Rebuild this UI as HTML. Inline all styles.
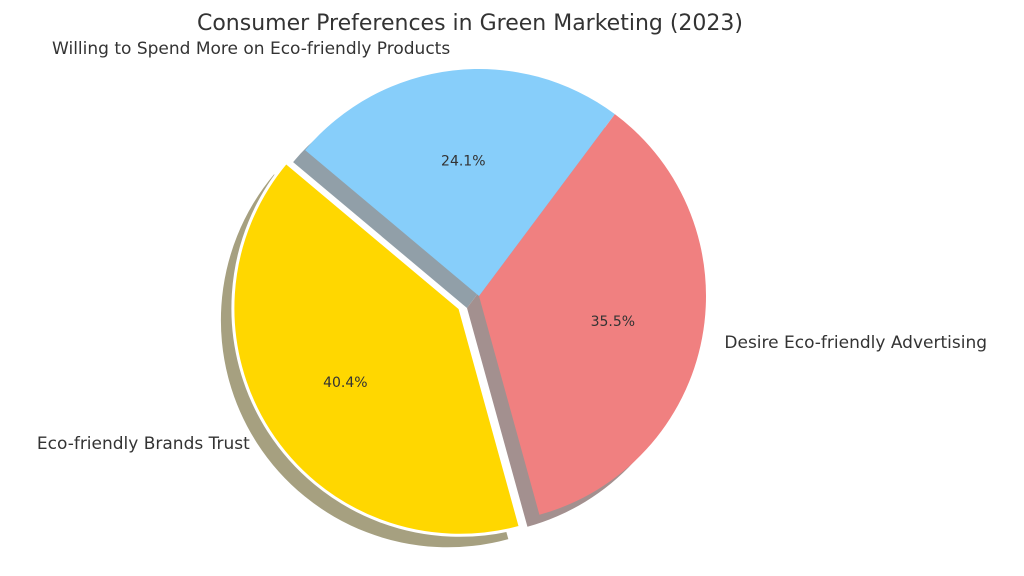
<!DOCTYPE html>
<html><head><meta charset="utf-8"><style>
body{margin:0;background:#fff;width:1024px;height:571px;overflow:hidden}
text{font-family:"DejaVu Sans","Liberation Sans",sans-serif;fill:#333}
</style></head><body>
<svg id="chart" width="1024" height="571" viewBox="0 0 1024 571">
<text x="470" y="30" font-size="22" text-anchor="middle">Consumer Preferences in Green Marketing (2023)</text>
<g id="shadows"></g><g id="wedges"></g><g id="labels"></g>
</svg>
<script>
const categories = ["Eco-friendly Brands Trust", "Desire Eco-friendly Advertising", "Willing to Spend More on Eco-friendly Products"];
const values = [40.4, 35.5, 24.1];
const explode = [0.1, 0, 0];
const colors = ["#FFD700", "#F08080", "#87CEFA"];
const shadowColors = ["#a6a080", "#a3908f", "#919fa8"];
const cx = 479, cy = 296, R = 227, startAngle = 140;
const NS = "http://www.w3.org/2000/svg";
const total = values.reduce((a, b) => a + b, 0);
const sh = document.getElementById('shadows'), wg = document.getElementById('wedges'), lb = document.getElementById('labels');
function pt(x, y, r, a) { const t = a * Math.PI / 180; return [x + r * Math.cos(t), y - r * Math.sin(t)]; }
function wedgePath(x, y, a1, a2) {
  const p1 = pt(x, y, R, a1), p2 = pt(x, y, R, a2), large = (a2 - a1) > 180 ? 1 : 0;
  return `M${x},${y} L${p1[0]},${p1[1]} A${R},${R} 0 ${large} 0 ${p2[0]},${p2[1]} Z`;
}
let a = startAngle;
values.forEach((v, i) => {
  const span = v / total * 360, a2 = a + span, mid = (a + a2) / 2;
  const off = pt(0, 0, explode[i] * R, mid);
  const x = cx + off[0], y = cy + off[1];
  const s = document.createElementNS(NS, 'path');
  s.setAttribute('d', wedgePath(x - 12, y + 12, a, a2));
  s.setAttribute('fill', shadowColors[i]);
  
  
  sh.appendChild(s);
  const w = document.createElementNS(NS, 'path');
  w.setAttribute('d', wedgePath(x, y, a, a2));
  w.setAttribute('fill', colors[i]);
  if (explode[i] > 0) { w.setAttribute('stroke', '#fff'); w.setAttribute('stroke-width', '3'); }
  
  
  wg.appendChild(w);
  const lp = pt(x, y, R * 1.1, mid);
  const t = document.createElementNS(NS, 'text');
  t.setAttribute('x', lp[0]); t.setAttribute('y', lp[1] + 6);
  t.setAttribute('font-size', '17');
  t.setAttribute('text-anchor', Math.cos(mid * Math.PI / 180) < 0 ? 'end' : 'start');
  t.textContent = categories[i];
  
  
  lb.appendChild(t);
  const pp = pt(x, y, R * 0.6, mid);
  const p = document.createElementNS(NS, 'text');
  p.setAttribute('x', pp[0]); p.setAttribute('y', pp[1] + 5);
  p.setAttribute('font-size', '14'); p.setAttribute('text-anchor', 'middle');
  p.textContent = v.toFixed(1) + '%';
  
  
  lb.appendChild(p);
  a = a2;
});
</script>
</body></html>
